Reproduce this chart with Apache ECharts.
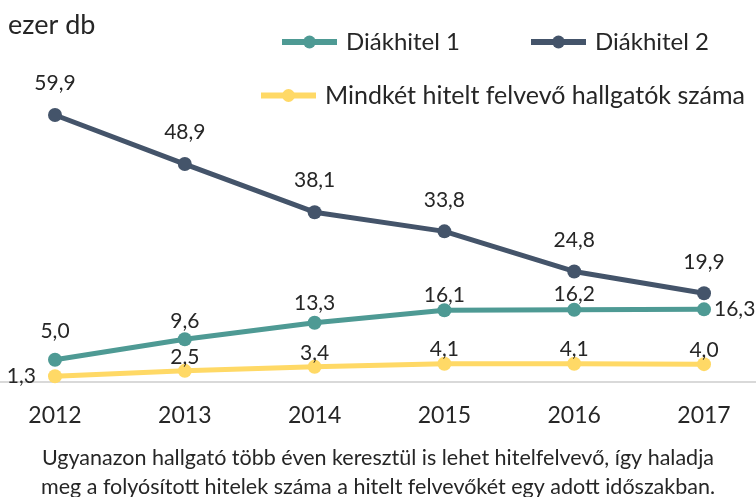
<!DOCTYPE html>
<html>
<head>
<meta charset="utf-8">
<script src="https://cdn.jsdelivr.net/npm/echarts@6/dist/echarts.min.js"></script>
<style>
  html, body { margin: 0; padding: 0; background: #fff; }
  #chart { width: 756px; height: 497px; }
</style>
</head>
<body>
<div id="chart"></div>
<script>
const years = ['2012', '2013', '2014', '2015', '2016', '2017'];
const diakhitel1 = [5.0, 9.6, 13.3, 16.1, 16.2, 16.3];
const diakhitel2 = [59.9, 48.9, 38.1, 33.8, 24.8, 19.9];
const mindketto = [1.3, 2.5, 3.4, 4.1, 4.1, 4.0];
const footnote = [
  'Ugyanazon hallgató több éven keresztül is lehet hitelfelvevő, így haladja',
  'meg a folyósított hitelek száma a hitelt felvevőkét egy adott időszakban.'
];

const font = 'Lato';
const textColor = '#262626';
const colors = { d1: '#4e9a94', d2: '#44546a', both: '#ffd966' };

function fmt(p) {
  return p.value.toFixed(1).replace('.', ',');
}

function makeSeries(name, data, color, distance, overrides) {
  return {
    name,
    type: 'line',
    xAxisIndex: 0,
    yAxisIndex: 0,
    data: data.map((v, i) => (overrides && overrides[i]) ? { value: v, label: overrides[i] } : v),
    symbol: 'circle',
    symbolSize: 14,
    lineStyle: { width: 5, color },
    itemStyle: { color },
    label: {
      show: true,
      position: 'top',
      distance,
      formatter: fmt,
      fontFamily: font,
      fontSize: 21,
      color: textColor
    }
  };
}

function legendFor(name, left, top, size) {
  return {
    data: [name],
    left,
    top,
    padding: 0,
    itemWidth: 55,
    itemHeight: 16,
    lineStyle: { width: 6 },
    textStyle: { fontFamily: font, fontSize: size, color: textColor, padding: [0, 0, 0, 4] }
  };
}

const chart = echarts.init(document.getElementById('chart'));

chart.setOption({
  animation: false,
  textStyle: { fontFamily: font },
  title: {
    text: 'ezer db',
    left: 3,
    top: 7,
    textStyle: { fontFamily: font, fontSize: 27, fontWeight: 'normal', color: textColor }
  },
  graphic: footnote.map((line, i) => ({
    type: 'text',
    x: 378,
    y: 458 + i * 29,
    style: {
      text: line,
      align: 'center',
      verticalAlign: 'middle',
      fontFamily: font,
      fontSize: 21.5,
      fill: textColor
    }
  })),
  legend: [
    legendFor('Diákhitel 1', 279, 30, 24),
    legendFor('Diákhitel 2', 528, 30, 24),
    legendFor('Mindkét hitelt felvevő hallgatók száma', 258, 83, 25)
  ],
  grid: [
    { left: 55, right: 52, top: 70, bottom: 115 },
    { left: 0, right: 0, top: 70, bottom: 115 }
  ],
  xAxis: [
    {
      type: 'category',
      gridIndex: 0,
      data: years,
      boundaryGap: false,
      axisLine: { show: false },
      axisTick: { show: false },
      axisLabel: { margin: 22, fontFamily: font, fontSize: 23, color: textColor }
    },
    {
      type: 'category',
      gridIndex: 1,
      data: years,
      axisLine: { lineStyle: { color: '#d9d9d9', width: 2 } },
      axisTick: { show: false },
      axisLabel: { show: false }
    }
  ],
  yAxis: [
    { type: 'value', gridIndex: 0, min: 0, max: 70, show: false },
    { type: 'value', gridIndex: 1, min: 0, max: 70, show: false }
  ],
  series: [
    makeSeries('Diákhitel 1', diakhitel1, colors.d1, -2, {
      0: { distance: 11 },
      1: { distance: 0.5 },
      2: { distance: 2 },
      5: { position: 'right', distance: 3 }
    }),
    makeSeries('Diákhitel 2', diakhitel2, colors.d2, 14),
    makeSeries('Mindkét hitelt felvevő hallgatók száma', mindketto, colors.both, -3.5, {
      0: { position: 'left', distance: 12 }
    })
  ]
});
</script>
</body>
</html>
